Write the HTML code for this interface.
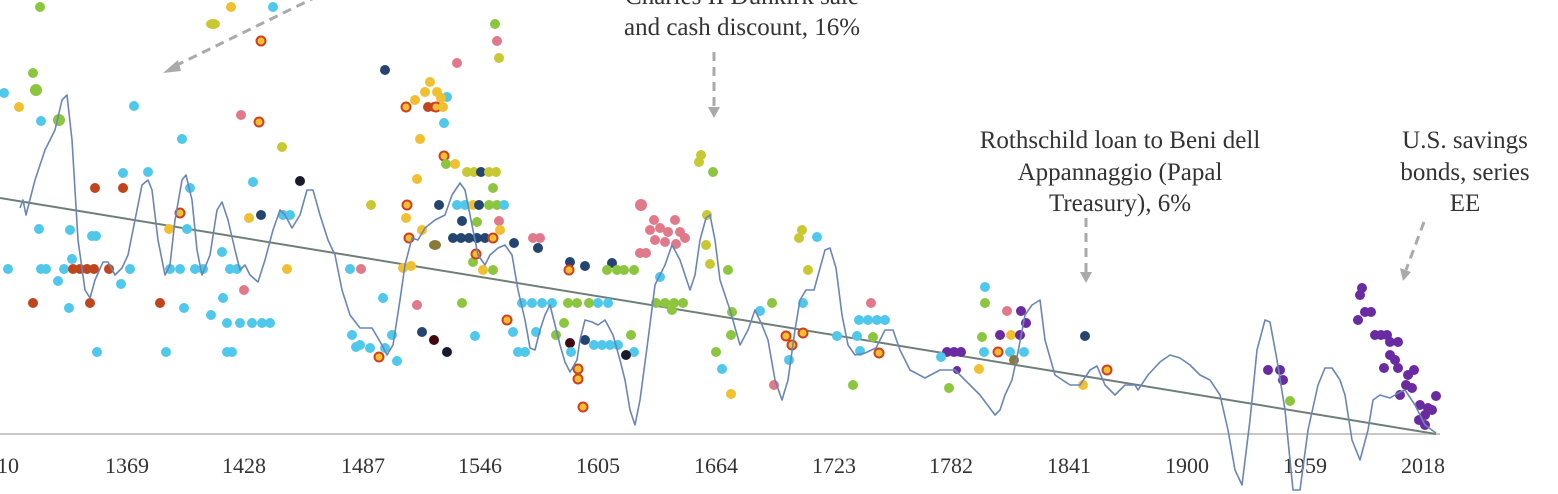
<!DOCTYPE html>
<html><head><meta charset="utf-8"><style>
html,body{margin:0;padding:0;background:#fff;}
svg{display:block;}
text{font-family:"Liberation Serif",serif;fill:#333;}
.c{fill:#4fc8ec}.r{fill:#c0451c}.g{fill:#8cc63f}.y{fill:#f0c030}.o{fill:#c8c832}.p{fill:#e07a8a}.n{fill:#234570}.d{fill:#1a1a2e}.u{fill:#6a2ba0}.k{fill:#f0c030;stroke:#d04020;stroke-width:2}.b{fill:#8a7a3a}.x{fill:#400a10}
</style></head><body>
<svg width="1558" height="494" viewBox="0 0 1558 494" xmlns="http://www.w3.org/2000/svg">
<line x1="0" y1="434" x2="1440" y2="434" stroke="#c8c8c8" stroke-width="2"/>
<g font-size="22" text-anchor="middle">
<text x="8" y="473">10</text><text x="127" y="473">1369</text><text x="244" y="473">1428</text><text x="363" y="473">1487</text><text x="480" y="473">1546</text><text x="598" y="473">1605</text><text x="716" y="473">1664</text><text x="834" y="473">1723</text><text x="951" y="473">1782</text><text x="1069" y="473">1841</text><text x="1187" y="473">1900</text><text x="1305" y="473">1959</text><text x="1423" y="473">2018</text>
</g>
<g font-size="25" text-anchor="middle">
<text x="742" y="4">Charles II Dunkirk sale</text>
<text x="742" y="35">and cash discount, 16%</text>
<text x="1120" y="148">Rothschild loan to Beni dell</text>
<text x="1120" y="180">Appannaggio (Papal</text>
<text x="1120" y="211">Treasury), 6%</text>
<text x="1465" y="148">U.S. savings</text>
<text x="1465" y="180">bonds, series</text>
<text x="1465" y="211">EE</text>
</g>
<g stroke="#aaa" stroke-width="3" stroke-dasharray="9,6" fill="none">
<line x1="318" y1="-4" x2="175" y2="66"/>
<line x1="714" y1="52" x2="714" y2="108"/>
<line x1="1086" y1="218" x2="1086" y2="272"/>
<line x1="1424" y1="222" x2="1406" y2="270"/>
</g>
<g fill="#aaa">
<polygon points="163,73 178,60 181,71"/>
<polygon points="708,107 720,107 714,118"/>
<polygon points="1080,272 1092,272 1086,283"/>
<polygon points="1400,268 1411,272 1403,281"/>
</g>
<line x1="0" y1="198" x2="1436" y2="434" stroke="#6f7f78" stroke-width="2"/>
<g>
<circle class="g" cx="40" cy="7" r="5"/><circle class="y" cx="231" cy="7" r="5"/><circle class="c" cx="273" cy="7" r="5"/><ellipse class="o" cx="213" cy="24" rx="7" ry="5"/><circle class="k" cx="261" cy="41" r="4.5"/>
<circle class="g" cx="33" cy="73" r="5"/><circle class="g" cx="36" cy="90" r="6"/><circle class="c" cx="4" cy="93" r="5"/><circle class="y" cx="19" cy="107" r="5"/><circle class="c" cx="41" cy="121" r="5"/><circle class="g" cx="59" cy="120" r="6"/>
<circle class="c" cx="134" cy="106" r="5"/><circle class="p" cx="241" cy="115" r="5"/><circle class="k" cx="259" cy="122" r="4.5"/><circle class="o" cx="282" cy="147" r="5"/><circle class="c" cx="182" cy="139" r="5"/><circle class="d" cx="300" cy="181" r="5"/><circle class="c" cx="253" cy="182" r="5"/>
<circle class="r" cx="95" cy="188" r="5"/><circle class="r" cx="123" cy="188" r="5"/><circle class="c" cx="123" cy="173" r="5"/><circle class="c" cx="148" cy="172" r="5"/><circle class="c" cx="190" cy="188" r="5"/><circle class="k" cx="180" cy="213" r="4.5"/>
<circle class="c" cx="70" cy="230" r="5"/><circle class="y" cx="169" cy="229" r="5"/><circle class="c" cx="187" cy="229" r="5"/><circle class="y" cx="249" cy="218" r="5"/><circle class="n" cx="261" cy="215" r="5"/><circle class="c" cx="283" cy="215" r="5"/><circle class="c" cx="290" cy="215" r="5"/>
<circle class="c" cx="39" cy="229" r="5"/><circle class="c" cx="92" cy="236" r="5"/><circle class="c" cx="96" cy="236" r="5"/><circle class="c" cx="72" cy="259" r="5"/>
<circle class="c" cx="8" cy="269" r="5"/><circle class="c" cx="41" cy="269" r="5"/><circle class="c" cx="46" cy="269" r="5"/><circle class="c" cx="64" cy="269" r="5"/><circle class="r" cx="73" cy="269" r="5"/><circle class="r" cx="80" cy="269" r="5"/><circle class="r" cx="87" cy="269" r="5"/><circle class="r" cx="94" cy="269" r="5"/><circle class="r" cx="109" cy="269" r="5"/><circle class="c" cx="130" cy="269" r="5"/><circle class="c" cx="170" cy="269" r="5"/><circle class="c" cx="180" cy="269" r="5"/><circle class="c" cx="195" cy="269" r="5"/><circle class="c" cx="203" cy="269" r="5"/><circle class="c" cx="230" cy="269" r="5"/><circle class="c" cx="237" cy="269" r="5"/><circle class="y" cx="287" cy="269" r="5"/>
<circle class="c" cx="58" cy="281" r="5"/><circle class="c" cx="121" cy="284" r="5"/><circle class="p" cx="244" cy="290" r="5"/><circle class="c" cx="222" cy="252" r="5"/>
<circle class="r" cx="33" cy="303" r="5"/><circle class="r" cx="90" cy="303" r="5"/><circle class="r" cx="160" cy="303" r="5"/><circle class="c" cx="184" cy="308" r="5"/><circle class="c" cx="69" cy="308" r="5"/><circle class="c" cx="223" cy="298" r="5"/><circle class="c" cx="211" cy="315" r="5"/>
<circle class="c" cx="227" cy="323" r="5"/><circle class="c" cx="240" cy="323" r="5"/><circle class="c" cx="252" cy="323" r="5"/><circle class="c" cx="262" cy="323" r="5"/><circle class="c" cx="270" cy="323" r="5"/>
<circle class="c" cx="97" cy="352" r="5"/><circle class="c" cx="166" cy="352" r="5"/><circle class="c" cx="227" cy="352" r="5"/><circle class="c" cx="232" cy="352" r="5"/>
<circle class="c" cx="352" cy="335" r="5"/><circle class="c" cx="360" cy="345" r="5"/><circle class="c" cx="370" cy="348" r="5"/><circle class="c" cx="385" cy="348" r="5"/><circle class="c" cx="392" cy="335" r="5"/><circle class="c" cx="356" cy="347" r="5"/><circle class="k" cx="379" cy="357" r="4.5"/><circle class="c" cx="397" cy="361" r="5"/><circle class="c" cx="383" cy="298" r="5"/><circle class="c" cx="350" cy="269" r="5"/><circle class="p" cx="361" cy="269" r="5"/><circle class="o" cx="371" cy="205" r="5"/>
<circle class="n" cx="385" cy="70" r="5"/><circle class="c" cx="447" cy="97" r="5"/><circle class="c" cx="444" cy="123" r="5"/><circle class="p" cx="457" cy="63" r="5"/><circle class="g" cx="495" cy="24" r="5"/><circle class="p" cx="497" cy="41" r="5"/><circle class="o" cx="499" cy="58" r="5"/>
<circle class="y" cx="430" cy="82" r="5"/><circle class="y" cx="425" cy="92" r="5"/><circle class="y" cx="437" cy="92" r="5"/><circle class="y" cx="415" cy="100" r="5"/><circle class="y" cx="441" cy="98" r="5"/><circle class="k" cx="406" cy="107" r="4.5"/><circle class="r" cx="428" cy="107" r="5"/><circle class="r" cx="434" cy="107" r="5"/><circle class="k" cx="436" cy="107" r="4.5"/><circle class="y" cx="443" cy="107" r="5"/>
<circle class="y" cx="420" cy="139" r="5"/><circle class="k" cx="444" cy="156" r="4.5"/><circle class="g" cx="446" cy="164" r="5"/><circle class="y" cx="455" cy="164" r="5"/>
<circle class="o" cx="467" cy="172" r="5"/><circle class="o" cx="474" cy="172" r="5"/><circle class="n" cx="481" cy="172" r="5"/><circle class="o" cx="489" cy="172" r="5"/><circle class="o" cx="496" cy="172" r="5"/><circle class="y" cx="417" cy="179" r="5"/><circle class="g" cx="493" cy="188" r="5"/>
<circle class="k" cx="407" cy="205" r="4.5"/><circle class="n" cx="439" cy="205" r="5"/><circle class="c" cx="457" cy="205" r="5"/><circle class="c" cx="465" cy="205" r="5"/><circle class="y" cx="473" cy="205" r="5"/><circle class="n" cx="479" cy="205" r="5"/><circle class="g" cx="489" cy="205" r="5"/><circle class="g" cx="497" cy="205" r="5"/><circle class="c" cx="504" cy="205" r="5"/>
<circle class="y" cx="406" cy="218" r="5"/><circle class="n" cx="462" cy="221" r="5"/><circle class="g" cx="477" cy="222" r="5"/><circle class="p" cx="499" cy="221" r="5"/><circle class="y" cx="422" cy="230" r="5"/><circle class="y" cx="500" cy="230" r="5"/><circle class="k" cx="409" cy="238" r="4.5"/>
<circle class="n" cx="453" cy="238" r="5"/><circle class="n" cx="461" cy="238" r="5"/><circle class="n" cx="469" cy="238" r="5"/><circle class="n" cx="477" cy="238" r="5"/><circle class="n" cx="485" cy="238" r="5"/><circle class="k" cx="493" cy="238" r="4.5"/><circle class="n" cx="514" cy="243" r="5"/><ellipse class="b" cx="435" cy="245" rx="6" ry="5"/>
<circle class="y" cx="411" cy="266" r="5"/><circle class="y" cx="403" cy="268" r="5"/><circle class="g" cx="473" cy="262" r="5"/><circle class="k" cx="476" cy="254" r="4.5"/><circle class="y" cx="483" cy="270" r="5"/><circle class="g" cx="493" cy="270" r="5"/><circle class="k" cx="507" cy="320" r="4.5"/><circle class="c" cx="513" cy="332" r="5"/><circle class="c" cx="518" cy="352" r="5"/>
<circle class="p" cx="417" cy="305" r="5"/><circle class="g" cx="462" cy="303" r="5"/><circle class="n" cx="422" cy="332" r="5"/><circle class="x" cx="434" cy="340" r="5"/><circle class="d" cx="447" cy="352" r="5"/><circle class="c" cx="475" cy="336" r="5"/>
<circle class="p" cx="533" cy="238" r="5"/><circle class="p" cx="540" cy="238" r="5"/><circle class="n" cx="538" cy="248" r="5"/><circle class="n" cx="570" cy="262" r="5"/><circle class="k" cx="569" cy="270" r="4.5"/><circle class="n" cx="585" cy="266" r="5"/><circle class="n" cx="612" cy="263" r="5"/>
<circle class="g" cx="607" cy="270" r="5"/><circle class="g" cx="617" cy="270" r="5"/><circle class="g" cx="624" cy="270" r="5"/><circle class="g" cx="634" cy="270" r="5"/>
<circle class="p" cx="641" cy="205" r="6"/><circle class="p" cx="654" cy="220" r="5"/><circle class="p" cx="675" cy="220" r="5"/><circle class="p" cx="650" cy="230" r="5"/><circle class="p" cx="660" cy="228" r="5"/><circle class="p" cx="668" cy="232" r="5"/><circle class="p" cx="680" cy="232" r="5"/><circle class="p" cx="685" cy="238" r="5"/><circle class="p" cx="655" cy="240" r="5"/><circle class="p" cx="665" cy="242" r="5"/><circle class="p" cx="676" cy="244" r="5"/><circle class="p" cx="646" cy="253" r="5"/><circle class="p" cx="640" cy="253" r="5"/>
<circle class="o" cx="701" cy="155" r="5"/><circle class="o" cx="699" cy="162" r="5"/><circle class="g" cx="713" cy="172" r="5"/><circle class="o" cx="707" cy="215" r="5"/><circle class="o" cx="706" cy="245" r="5"/><circle class="o" cx="710" cy="264" r="5"/><circle class="g" cx="728" cy="270" r="5"/>
<circle class="o" cx="802" cy="230" r="5"/><circle class="o" cx="799" cy="238" r="5"/><circle class="c" cx="817" cy="237" r="5"/><circle class="o" cx="808" cy="270" r="5"/>
<circle class="c" cx="522" cy="303" r="5"/><circle class="c" cx="532" cy="303" r="5"/><circle class="c" cx="542" cy="303" r="5"/><circle class="c" cx="552" cy="303" r="5"/><circle class="g" cx="568" cy="303" r="5"/><circle class="g" cx="577" cy="303" r="5"/><circle class="g" cx="589" cy="303" r="5"/><circle class="c" cx="598" cy="303" r="5"/><circle class="c" cx="608" cy="303" r="5"/>
<circle class="c" cx="660" cy="277" r="5"/><circle class="g" cx="656" cy="303" r="5"/><circle class="g" cx="665" cy="303" r="5"/><circle class="g" cx="674" cy="303" r="5"/><circle class="g" cx="683" cy="303" r="5"/><circle class="g" cx="672" cy="310" r="5"/><circle class="c" cx="760" cy="311" r="5"/><circle class="g" cx="772" cy="303" r="5"/><circle class="c" cx="803" cy="303" r="5"/><circle class="g" cx="732" cy="312" r="5"/>
<circle class="p" cx="871" cy="303" r="5"/><circle class="c" cx="859" cy="320" r="5"/><circle class="c" cx="868" cy="320" r="5"/><circle class="c" cx="877" cy="320" r="5"/><circle class="c" cx="885" cy="320" r="5"/><circle class="c" cx="837" cy="336" r="5"/><circle class="c" cx="857" cy="336" r="5"/><circle class="g" cx="873" cy="337" r="5"/>
<circle class="k" cx="786" cy="336" r="4.5"/><circle class="k" cx="792" cy="345" r="4.5"/><circle class="k" cx="803" cy="333" r="4.5"/><circle class="g" cx="731" cy="335" r="5"/><circle class="g" cx="716" cy="352" r="5"/><circle class="c" cx="789" cy="360" r="5"/><circle class="p" cx="774" cy="385" r="5"/><circle class="c" cx="722" cy="369" r="5"/><circle class="y" cx="731" cy="394" r="5"/><circle class="g" cx="853" cy="385" r="5"/><circle class="k" cx="879" cy="353" r="4.5"/><circle class="c" cx="860" cy="351" r="5"/>
<circle class="k" cx="578" cy="369" r="4.5"/><circle class="k" cx="578" cy="379" r="4.5"/><circle class="k" cx="583" cy="407" r="4.5"/><circle class="x" cx="570" cy="343" r="5"/><circle class="n" cx="585" cy="340" r="5"/><circle class="g" cx="564" cy="323" r="5"/><circle class="g" cx="556" cy="335" r="5"/>
<circle class="c" cx="594" cy="345" r="5"/><circle class="c" cx="602" cy="345" r="5"/><circle class="c" cx="610" cy="345" r="5"/><circle class="c" cx="618" cy="345" r="5"/><circle class="g" cx="631" cy="335" r="5"/><circle class="c" cx="634" cy="352" r="5"/><circle class="c" cx="525" cy="352" r="5"/><circle class="c" cx="536" cy="332" r="5"/><circle class="c" cx="571" cy="352" r="5"/><circle class="d" cx="626" cy="355" r="5"/>
<circle class="c" cx="985" cy="287" r="5"/><circle class="g" cx="985" cy="303" r="5"/><circle class="p" cx="1007" cy="311" r="5"/><circle class="u" cx="1021" cy="311" r="5"/><circle class="u" cx="1026" cy="323" r="5"/><circle class="u" cx="1000" cy="335" r="5"/><circle class="y" cx="1011" cy="335" r="5"/><circle class="u" cx="1020" cy="335" r="5"/><circle class="g" cx="982" cy="337" r="5"/>
<circle class="c" cx="984" cy="352" r="5"/><circle class="k" cx="998" cy="352" r="4.5"/><circle class="c" cx="1010" cy="352" r="5"/><circle class="c" cx="1024" cy="352" r="5"/><circle class="b" cx="1014" cy="360" r="5"/><circle class="y" cx="979" cy="369" r="5"/><circle class="g" cx="949" cy="388" r="5"/>
<circle class="u" cx="947" cy="352" r="5"/><circle class="u" cx="954" cy="352" r="5"/><circle class="u" cx="961" cy="352" r="5"/><circle class="u" cx="957" cy="370" r="4"/><circle class="c" cx="941" cy="357" r="5"/>
<circle class="n" cx="1085" cy="336" r="5"/><circle class="k" cx="1107" cy="370" r="4.5"/><circle class="y" cx="1083" cy="385" r="5"/><circle class="u" cx="1268" cy="370" r="5"/><circle class="u" cx="1280" cy="370" r="5"/><circle class="u" cx="1283" cy="380" r="5"/><circle class="g" cx="1290" cy="401" r="5"/>
<circle class="u" cx="1362" cy="288" r="5"/><circle class="u" cx="1360" cy="295" r="5"/><circle class="u" cx="1358" cy="320" r="5"/><circle class="u" cx="1365" cy="312" r="5"/><circle class="u" cx="1371" cy="312" r="5"/><circle class="u" cx="1375" cy="335" r="5"/><circle class="u" cx="1381" cy="335" r="5"/><circle class="u" cx="1387" cy="335" r="5"/><circle class="u" cx="1390" cy="342" r="5"/><circle class="u" cx="1398" cy="342" r="5"/><circle class="u" cx="1390" cy="355" r="5"/><circle class="u" cx="1395" cy="360" r="5"/><circle class="u" cx="1384" cy="368" r="5"/><circle class="u" cx="1398" cy="368" r="5"/><circle class="u" cx="1408" cy="375" r="5"/><circle class="u" cx="1414" cy="370" r="5"/><circle class="u" cx="1406" cy="385" r="5"/><circle class="u" cx="1412" cy="388" r="5"/><circle class="u" cx="1400" cy="395" r="5"/><circle class="u" cx="1420" cy="405" r="5"/><circle class="u" cx="1428" cy="408" r="5"/><circle class="u" cx="1436" cy="396" r="5"/><circle class="u" cx="1425" cy="415" r="5"/><circle class="u" cx="1432" cy="410" r="5"/><circle class="u" cx="1425" cy="425" r="5"/><circle class="u" cx="1419" cy="420" r="5"/>
</g>
<polyline fill="none" stroke="#6a86b8" stroke-width="1.6" stroke-linejoin="round" points="20,208 23,200 26,215 35,180 45,150 55,130 62,100 67,95 72,140 78,240 85,290 90,298 95,280 103,262 108,262 115,275 122,268 128,255 135,220 142,185 148,180 152,190 158,240 165,275 170,265 175,220 182,180 186,175 192,200 197,250 202,275 210,255 217,210 222,202 228,220 235,250 240,270 245,265 250,275 258,282 265,260 273,230 280,210 285,215 292,228 300,215 307,190 313,190 320,215 328,240 335,255 342,290 350,315 360,328 372,328 382,345 387,355 393,345 400,300 405,265 412,238 418,240 425,228 435,220 445,215 452,195 460,183 465,190 470,215 478,255 485,265 490,255 498,248 505,245 512,255 518,290 525,320 530,348 535,350 540,330 545,315 550,305 555,325 560,345 565,362 570,372 577,360 580,340 585,320 592,322 598,325 605,320 613,335 620,360 625,380 630,410 635,425 640,400 648,340 655,285 665,265 672,245 680,260 690,290 695,275 700,240 706,218 710,215 715,240 720,280 730,310 740,345 748,330 755,310 762,325 768,340 775,380 782,400 788,380 795,330 800,300 806,290 814,290 825,250 830,248 836,268 842,315 848,345 855,355 865,353 876,348 885,330 893,330 900,350 910,370 925,378 940,370 955,370 970,385 980,395 995,415 1000,410 1005,395 1012,380 1018,352 1025,315 1032,305 1040,300 1045,340 1055,375 1070,385 1080,385 1090,370 1097,366 1105,385 1115,395 1125,385 1135,385 1138,390 1148,375 1160,362 1170,355 1180,358 1190,365 1200,375 1210,380 1220,395 1228,430 1235,470 1242,485 1250,420 1257,350 1265,320 1270,322 1277,360 1285,410 1293,490 1300,490 1308,430 1318,385 1325,368 1332,368 1340,380 1345,395 1352,440 1360,460 1368,430 1373,400 1380,395 1390,398 1400,392 1405,390 1415,405 1425,425 1436,433"/>
</svg>
</body></html>
